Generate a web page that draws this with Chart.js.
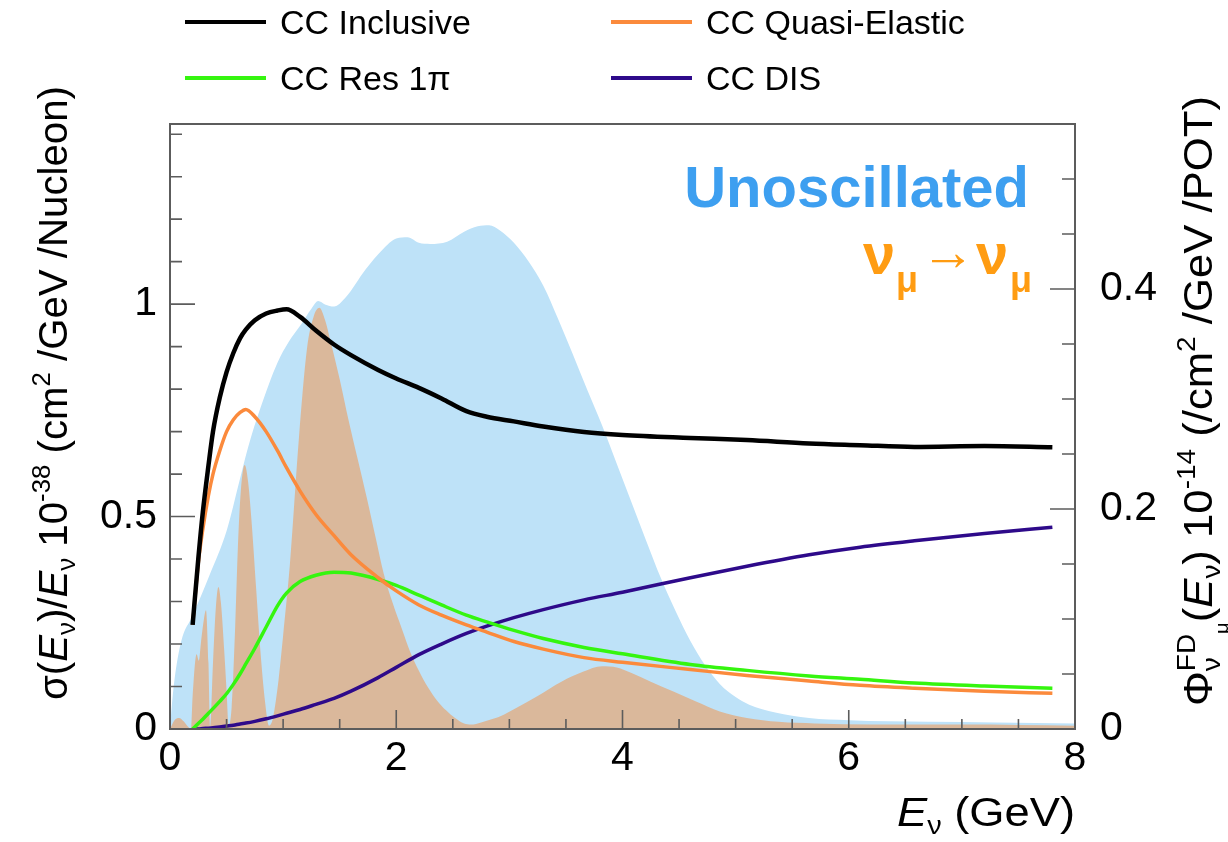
<!DOCTYPE html>
<html lang="en">
<head>
<meta charset="UTF-8">
<title>CC cross sections and FD flux</title>
<script src="https://cdn.jsdelivr.net/npm/chart.js"></script>
<style>
    body { margin: 0; background: #fff; }
    #chart { display: block; }
</style>
</head>
<body>
<canvas id="chart" width="1228" height="842"></canvas>
<script>
// cross-section curves (left axis), all on one energy grid
const xsecE = [0.2, 0.25, 0.29, 0.34, 0.38, 0.44, 0.5, 0.56, 0.62, 0.67, 0.75, 0.85, 0.95, 1.03, 1.15, 1.29, 1.45, 1.6, 1.84, 2.0, 2.2, 2.4, 2.62, 2.8, 3.04, 3.3, 3.66, 4.0, 4.6, 5.1, 5.65, 6.1, 6.58, 7.2, 7.8];
const ccInclusive = [0.245, 0.40, 0.51, 0.62, 0.70, 0.78, 0.84, 0.885, 0.92, 0.94, 0.962, 0.978, 0.985, 0.988, 0.97, 0.938, 0.905, 0.88, 0.845, 0.825, 0.803, 0.778, 0.748, 0.735, 0.724, 0.712, 0.699, 0.692, 0.685, 0.68, 0.672, 0.668, 0.664, 0.666, 0.663];
const ccQE = [0.245, 0.39, 0.47, 0.55, 0.60, 0.655, 0.70, 0.728, 0.745, 0.752, 0.735, 0.70, 0.655, 0.615, 0.56, 0.505, 0.455, 0.41, 0.356, 0.325, 0.292, 0.268, 0.245, 0.228, 0.206, 0.188, 0.168, 0.157, 0.14, 0.126, 0.113, 0.103, 0.096, 0.089, 0.084];
const ccRes = [0.0, 0.013, 0.023, 0.037, 0.048, 0.065, 0.083, 0.105, 0.13, 0.153, 0.19, 0.24, 0.29, 0.32, 0.347, 0.362, 0.369, 0.367, 0.352, 0.338, 0.315, 0.292, 0.268, 0.252, 0.232, 0.213, 0.192, 0.177, 0.152, 0.138, 0.125, 0.117, 0.108, 0.101, 0.096];
const ccDIS = [0.0, 0.0, 0.001, 0.002, 0.003, 0.005, 0.007, 0.009, 0.012, 0.014, 0.018, 0.024, 0.031, 0.037, 0.046, 0.058, 0.072, 0.089, 0.121, 0.145, 0.175, 0.2, 0.225, 0.242, 0.262, 0.281, 0.304, 0.322, 0.356, 0.383, 0.41, 0.428, 0.443, 0.46, 0.475];

// far detector flux (right axis)
const unoscE = [0, 0.015, 0.04, 0.1, 0.2, 0.35, 0.5, 0.62, 0.69, 0.8, 0.95, 1.05, 1.16, 1.25, 1.31, 1.37, 1.45, 1.55, 1.73, 1.88, 2.0, 2.1, 2.2, 2.3, 2.45, 2.6, 2.72, 2.82, 2.92, 3.04, 3.17, 3.3, 3.43, 3.56, 3.69, 3.82, 3.95, 4.08, 4.21, 4.34, 4.47, 4.6, 4.73, 4.86, 5.0, 5.12, 5.35, 5.65, 6.0, 6.7, 7.3, 8.0];
const unoscFlux = [0, 0.02, 0.045, 0.08, 0.103, 0.14, 0.18, 0.228, 0.256, 0.292, 0.333, 0.352, 0.368, 0.382, 0.389, 0.386, 0.384, 0.392, 0.418, 0.436, 0.446, 0.447, 0.442, 0.441, 0.443, 0.452, 0.457, 0.458, 0.453, 0.442, 0.425, 0.403, 0.373, 0.341, 0.308, 0.276, 0.241, 0.206, 0.171, 0.137, 0.107, 0.08, 0.058, 0.041, 0.029, 0.022, 0.015, 0.01, 0.008, 0.0065, 0.006, 0.005];
const oscE = [0, 0.04, 0.08, 0.12, 0.16, 0.185, 0.2, 0.235, 0.255, 0.275, 0.3, 0.318, 0.34, 0.355, 0.38, 0.405, 0.428, 0.45, 0.48, 0.5, 0.518, 0.545, 0.575, 0.6, 0.625, 0.66, 0.69, 0.72, 0.76, 0.8, 0.84, 0.875, 0.91, 0.96, 1.0, 1.06, 1.14, 1.21, 1.27, 1.32, 1.37, 1.42, 1.5, 1.58, 1.66, 1.74, 1.82, 1.89, 1.97, 2.05, 2.12, 2.2, 2.28, 2.36, 2.44, 2.52, 2.6, 2.66, 2.75, 2.85, 2.95, 3.04, 3.25, 3.46, 3.65, 3.82, 3.95, 4.08, 4.25, 4.45, 4.65, 4.86, 5.1, 5.38, 5.7, 6.2, 7.0, 8.0];
const oscFlux = [0, 0.008, 0.01, 0.007, 0.002, 0.0, 0.03, 0.068, 0.062, 0.08, 0.1, 0.108, 0.06, 0.002, 0.06, 0.11, 0.129, 0.115, 0.07, 0.035, 0.003, 0.02, 0.09, 0.165, 0.215, 0.24, 0.225, 0.19, 0.13, 0.07, 0.025, 0.003, 0.01, 0.045, 0.085, 0.15, 0.265, 0.345, 0.375, 0.383, 0.372, 0.352, 0.318, 0.28, 0.245, 0.21, 0.173, 0.141, 0.114, 0.091, 0.071, 0.053, 0.038, 0.026, 0.017, 0.01, 0.005, 0.004, 0.006, 0.009, 0.013, 0.018, 0.03, 0.043, 0.052, 0.057, 0.056, 0.051, 0.043, 0.034, 0.025, 0.016, 0.01, 0.0065, 0.005, 0.004, 0.004, 0.003];

const xTicks = [0, 2, 4, 6, 8];
const FONT = '"Liberation Sans", Arial, sans-serif';

function pts(xs, ys) {
    return xs.map((x, i) => ({ x: x, y: ys[i] }));
}

function curve(label, ys, color, width, order) {
    return {
        label: label, data: pts(xsecE, ys), yAxisID: 'y',
        borderColor: color, backgroundColor: color, borderWidth: width,
        pointRadius: 0, fill: false, cubicInterpolationMode: 'monotone', order: order
    };
}

// draws a run of text pieces along a baseline, returns its width
function richText(ctx, x, y, parts, size, measureOnly) {
    let cx = x;
    let held = 0;
    for (const p of parts) {
        let s = size, dy = 0;
        if (p.s === 'sup') { s = size * 0.64; dy = -size * 0.42; }
        if (p.s === 'sub') { s = size * 0.64; dy = size * 0.2; }
        if (p.s === 'subsub') { s = size * 0.46; dy = size * 0.4; }
        ctx.font = (p.i ? 'italic ' : '') + (p.b ? 'bold ' : '') + s + 'px ' + FONT;
        if (!measureOnly) ctx.fillText(p.t, cx, y + dy);
        const w = ctx.measureText(p.t).width;
        if (p.hold) { held = w; continue; }
        cx += Math.max(w, held);
        held = 0;
    }
    return cx - x;
}

// rich text stretched along its run to a given length
function fitText(ctx, x, y, angle, parts, size, length) {
    const w = richText(ctx, 0, 0, parts, size, true);
    ctx.save();
    ctx.translate(x, y);
    ctx.rotate(angle);
    ctx.scale(length / w, 1);
    richText(ctx, 0, 0, parts, size);
    ctx.restore();
}

const decorations = {
    id: 'decorations',
    afterDatasetsDraw(chart) {
        const { ctx, chartArea: a, scales } = chart;
        ctx.save();
        ctx.strokeStyle = '#5c5c5c';
        ctx.lineWidth = 2;
        ctx.strokeRect(a.left, a.top, a.right - a.left, a.bottom - a.top);
        ctx.lineWidth = 1.6;
        ctx.beginPath();
        // x ticks every 0.5, long at labelled values
        for (let i = 0; i <= 16; i++) {
            const px = scales.x.getPixelForValue(i * 0.5);
            const len = i % 4 === 0 ? 19 : 10;
            ctx.moveTo(px, a.bottom); ctx.lineTo(px, a.bottom - len);
        }
        // left ticks every 0.1
        for (let i = 0; i <= 14; i++) {
            const py = scales.y.getPixelForValue(i * 0.1);
            const len = i % 5 === 0 ? 25 : 12;
            ctx.moveTo(a.left, py); ctx.lineTo(a.left + len, py);
        }
        // right ticks every 0.05
        for (let i = 0; i <= 11; i++) {
            const py = scales.y2.getPixelForValue(i * 0.05);
            const len = i % 4 === 0 ? 25 : 13;
            ctx.moveTo(a.right, py); ctx.lineTo(a.right - len, py);
        }
        ctx.stroke();
        ctx.restore();
    },
    afterDraw(chart) {
        const ctx = chart.ctx;
        ctx.save();
        ctx.fillStyle = '#000';
        ctx.textBaseline = 'alphabetic';
        ctx.textAlign = 'left';

        // legend in two columns
        const slots = [[185, 22], [611, 22], [185, 78], [611, 78]];
        chart.data.datasets.slice(0, 4).forEach((ds, i) => {
            const [lx, ly] = slots[i];
            ctx.strokeStyle = ds.borderColor;
            ctx.lineWidth = 4;
            ctx.beginPath();
            ctx.moveTo(lx, ly); ctx.lineTo(lx + 81, ly);
            ctx.stroke();
            ctx.fillStyle = '#000';
            ctx.font = '34px ' + FONT;
            ctx.fillText(ds.label, lx + 95, ly + 12);
        });

        // overlay labels
        ctx.fillStyle = '#3d9ff0';
        ctx.font = 'bold 58px ' + FONT;
        ctx.textAlign = 'right';
        ctx.fillText('Unoscillated', 1029, 207);
        ctx.textAlign = 'left';
        ctx.fillStyle = '#ff9c12';
        ctx.font = 'bold 58px ' + FONT;
        ctx.fillText('ν', 863, 274);
        ctx.fillText('ν', 976, 274);
        ctx.font = 'bold 36px ' + FONT;
        ctx.fillText('μ', 896, 292);
        ctx.fillText('μ', 1010, 292);
        ctx.font = '54px ' + FONT;
        ctx.fillText('→', 921, 270);

        // axis titles
        ctx.fillStyle = '#000';
        const xTitle = [{ t: 'E', i: true }, { t: 'ν', s: 'sub' }, { t: ' (GeV)' }];
        fitText(ctx, 897, 826, 0, xTitle, 41, 178);

        fitText(ctx, 67, 700, -Math.PI / 2, [
            { t: 'σ(' }, { t: 'E', i: true }, { t: 'ν', s: 'sub' }, { t: ')/' },
            { t: 'E', i: true }, { t: 'ν', s: 'sub' }, { t: ' 10' }, { t: '-38', s: 'sup' },
            { t: ' (cm' }, { t: '2', s: 'sup' }, { t: ' /GeV /Nucleon)' }
        ], 40, 614);

        fitText(ctx, 1212, 706, -Math.PI / 2, [
            { t: 'Φ' }, { t: 'FD', s: 'sup', hold: true }, { t: 'ν', s: 'sub' }, { t: 'μ', s: 'subsub' },
            { t: '(' }, { t: 'E', i: true }, { t: 'ν', s: 'sub' }, { t: ') 10' }, { t: '-14', s: 'sup' },
            { t: ' (/cm' }, { t: '2', s: 'sup' }, { t: ' /GeV /POT)' }
        ], 40, 610);
        ctx.restore();
    }
};

Chart.defaults.font.family = FONT;
Chart.defaults.color = '#000';

new Chart(document.getElementById('chart'), {
    type: 'line',
    data: {
        datasets: [
            curve('CC Inclusive', ccInclusive, '#000000', 4.5, 0),
            curve('CC Quasi-Elastic', ccQE, '#fb8a3c', 3.5, 1),
            curve('CC Res 1π', ccRes, '#35f50f', 3.5, 2),
            curve('CC DIS', ccDIS, '#2e0a8a', 3.5, 3),
            {
                label: 'Oscillated flux', data: pts(oscE, oscFlux), yAxisID: 'y2',
                borderWidth: 0, pointRadius: 0, fill: 'origin',
                backgroundColor: '#dab89b', borderColor: '#dab89b',
                cubicInterpolationMode: 'monotone', order: 4
            },
            {
                label: 'Unoscillated flux', data: pts(unoscE, unoscFlux), yAxisID: 'y2',
                borderWidth: 0, pointRadius: 0, fill: 'origin',
                backgroundColor: '#bee2f8', borderColor: '#bee2f8',
                cubicInterpolationMode: 'monotone', order: 5
            }
        ]
    },
    options: {
        responsive: false,
        animation: false,
        layout: { padding: { top: 124, left: 0, right: 0, bottom: 0 } },
        plugins: { legend: { display: false }, tooltip: { enabled: false } },
        scales: {
            x: {
                type: 'linear', min: 0, max: 8,
                grid: { display: false, drawTicks: false }, border: { display: false },
                afterBuildTicks: s => { s.ticks = xTicks.map(v => ({ value: v })); },
                ticks: { font: { size: 41 }, padding: 5, maxRotation: 0, autoSkip: false },
                afterFit: s => { s.height = 113; }
            },
            y: {
                position: 'left', min: 0, max: 1.424,
                grid: { display: false, drawTicks: false }, border: { display: false },
                ticks: {
                    stepSize: 0.5, includeBounds: false, font: { size: 41 }, padding: 13,
                    callback: v => String(Math.round(v * 10) / 10)
                },
                afterFit: s => { s.width = 170; }
            },
            y2: {
                position: 'right', min: 0, max: 0.55,
                grid: { display: false, drawTicks: false }, border: { display: false },
                ticks: {
                    stepSize: 0.2, includeBounds: false, font: { size: 41 }, padding: 25,
                    callback: v => String(Math.round(v * 10) / 10)
                },
                afterFit: s => { s.width = 153; }
            }
        }
    },
    plugins: [decorations]
});
</script>
</body>
</html>
